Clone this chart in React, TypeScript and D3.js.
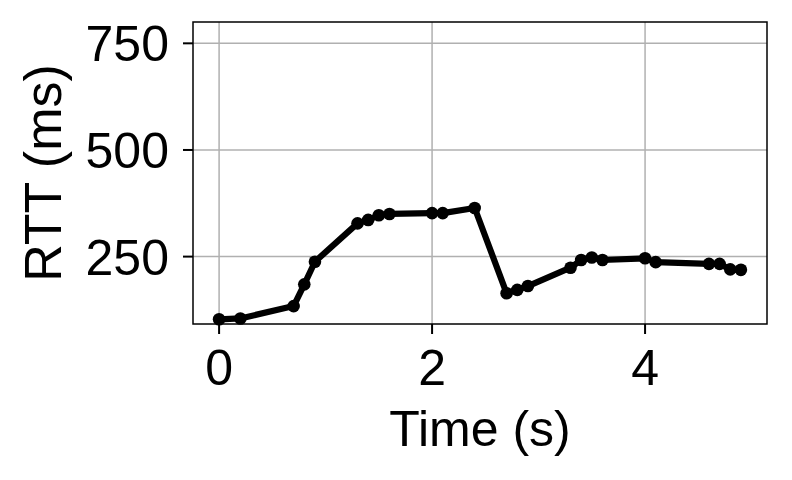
import React from "react";
import * as d3 from "d3";

// RTT samples over time
const times = [0, 0.2, 0.7, 0.8, 0.9, 1.3, 1.4, 1.5, 1.6, 2.0, 2.1, 2.4, 2.7, 2.8, 2.9, 3.3, 3.4, 3.5, 3.6, 4.0, 4.1, 4.6, 4.7, 4.8, 4.9];
const rtts = [103, 105, 134, 185, 238, 328, 336, 347, 350, 352, 352, 364, 164, 172, 181, 224, 242, 248, 242, 246, 237, 233, 233, 220, 219];
const xTicks = [0, 2, 4];
const yTicks = [250, 500, 750];

const W = 792;
const H = 480;
const margin = { top: 22, right: 25, bottom: 156, left: 193 };
const font = "'Liberation Sans', Arial, Helvetica, sans-serif";

const App = () => {
  const x = d3.scaleLinear().domain([-0.245, 5.145]).range([margin.left, W - margin.right]);
  const y = d3.scaleLinear().domain([92, 800]).range([H - margin.bottom, margin.top]);

  const points = times.map((t, i) => ({ t, v: rtts[i] }));
  const line = d3.line<{ t: number; v: number }>().x(d => x(d.t)).y(d => y(d.v));

  const x0 = margin.left;
  const x1 = W - margin.right;
  const y0 = H - margin.bottom;
  const y1 = margin.top;

  return (
    <svg width={W} height={H} style={{ position: "absolute", left: 0, top: 0, background: "#fff" }} fontFamily={font}>
      {/* grid */}
      {xTicks.map(t => (
        <line key={"gx" + t} x1={x(t)} x2={x(t)} y1={y1} y2={y0} stroke="#b0b0b0" strokeWidth={1.5} />
      ))}
      {yTicks.map(t => (
        <line key={"gy" + t} x1={x0} x2={x1} y1={y(t)} y2={y(t)} stroke="#b0b0b0" strokeWidth={1.5} />
      ))}

      {/* series */}
      <path d={line(points) ?? ""} fill="none" stroke="#000" strokeWidth={6.2} strokeLinejoin="round" />
      {points.map((d, i) => (
        <circle key={i} cx={x(d.t)} cy={y(d.v)} r={6.3} fill="#000" />
      ))}

      {/* frame */}
      <rect x={x0} y={y1} width={x1 - x0} height={y0 - y1} fill="none" stroke="#000" strokeWidth={1.5} />

      {/* x axis */}
      {xTicks.map(t => (
        <g key={"xt" + t}>
          <line x1={x(t)} x2={x(t)} y1={y0} y2={y0 + 10} stroke="#000" strokeWidth={2} />
          <text x={x(t)} y={y0 + 61} textAnchor="middle" fontSize={50} fill="#000">{t}</text>
        </g>
      ))}
      <text x={(x0 + x1) / 2} y={446} textAnchor="middle" fontSize={50} fill="#000">Time (s)</text>

      {/* y axis */}
      {yTicks.map(t => (
        <g key={"yt" + t}>
          <line x1={x0 - 10} x2={x0} y1={y(t)} y2={y(t)} stroke="#000" strokeWidth={2} />
          <text x={x0 - 24} y={y(t) + 18} textAnchor="end" fontSize={50} fill="#000">{t}</text>
        </g>
      ))}
      <text
        transform={`translate(61,${(y0 + y1) / 2}) rotate(-90)`}
        textAnchor="middle"
        fontSize={52}
        fill="#000"
      >
        RTT (ms)
      </text>
    </svg>
  );
};

export default App;
